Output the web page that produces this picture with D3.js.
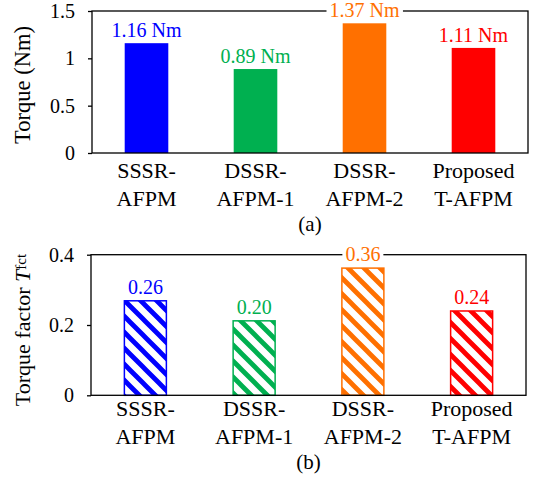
<!DOCTYPE html>
<html><head><meta charset="utf-8">
<script src="https://cdn.jsdelivr.net/npm/d3@7"></script>
<style>
html,body{margin:0;padding:0;background:#fff;}
svg text{font-family:"Liberation Serif","Times New Roman",serif;}
</style></head>
<body><svg id="c" width="536" height="484"></svg>
<script>
// ---- data ----
const categories = ["SSSR-AFPM", "DSSR-AFPM-1", "DSSR-AFPM-2", "Proposed T-AFPM"];
const categoryLines = [["SSSR-", "AFPM"], ["DSSR-", "AFPM-1"], ["DSSR-", "AFPM-2"], ["Proposed", "T-AFPM"]];
const torqueValues = [1.16, 0.887, 1.37, 1.11];
const torqueLabels = ["1.16 Nm", "0.89 Nm", "1.37 Nm", "1.11 Nm"];
const torqueTicks = [0, 0.5, 1, 1.5];
const factorValues = [0.271, 0.214, 0.364, 0.242];
const factorLabels = ["0.26", "0.20", "0.36", "0.24"];
const factorTicks = [0, 0.2, 0.4];
const colors = ["#0000ff", "#00b050", "#ff7000", "#ff0000"];

const svg = d3.select("#c");
svg.append("rect").attr("width", 536).attr("height", 484).attr("fill", "#fff");

// hatch patterns
const defs = svg.append("defs");
colors.forEach((c, i) => {
  const p = defs.append("pattern").attr("id", "hatch" + i)
    .attr("patternUnits", "userSpaceOnUse").attr("width", 16).attr("height", 16);
  p.append("rect").attr("width", 16).attr("height", 16).attr("fill", "#fff");
  p.append("path").attr("d", "M-4,-4L20,20M-4,12L4,20M12,-4L20,4")
    .attr("stroke", c).attr("stroke-width", 4.8);
});

function panel(cfg) {
  const g = svg.append("g");
  const x = d3.scaleBand().domain(categories).range([cfg.left, cfg.right])
    .paddingInner(0.6).paddingOuter(0.3);
  const y = d3.scaleLinear().domain([0, cfg.max]).range([cfg.bottom, cfg.top]);

  // bars
  g.selectAll("rect.bar").data(cfg.values).join("rect").attr("class", "bar")
    .attr("x", (d, i) => x(categories[i]) + (cfg.hatch ? 0.75 : 0))
    .attr("width", x.bandwidth() - (cfg.hatch ? 1.5 : 0))
    .attr("y", d => y(d) + (cfg.hatch ? 0.75 : 0))
    .attr("height", d => cfg.bottom - y(d) - (cfg.hatch ? 0.75 : 0))
    .attr("fill", (d, i) => cfg.hatch ? "url(#hatch" + i + ")" : colors[i])
    .attr("stroke", (d, i) => cfg.hatch ? colors[i] : "none")
    .attr("stroke-width", 1.5);

  // frame
  g.append("rect").attr("x", cfg.left).attr("y", cfg.top)
    .attr("width", cfg.right - cfg.left).attr("height", cfg.bottom - cfg.top)
    .attr("fill", "none").attr("stroke", "#000").attr("stroke-width", 1.3);

  // y axis
  const ax = g.append("g").attr("transform", `translate(${cfg.left},0)`)
    .call(d3.axisLeft(y).tickValues(cfg.ticks).tickFormat(d => String(d))
      .tickSize(4).tickPadding(13));
  ax.attr("font-family", null);
  ax.select(".domain").remove();
  ax.selectAll(".tick line").attr("stroke", "#000").attr("stroke-width", 1.3);
  ax.selectAll(".tick text").attr("font-size", 20).attr("fill", "#000");

  // value labels with white background boxes
  const vg = g.append("g");
  const labs = vg.selectAll("g.val").data(cfg.values).join("g").attr("class", "val");
  const txt = labs.append("text")
    .attr("x", (d, i) => x(categories[i]) + x.bandwidth() / 2)
    .attr("y", d => y(d) - 6)
    .attr("text-anchor", "middle").attr("font-size", 20)
    .attr("fill", (d, i) => colors[i])
    .text((d, i) => cfg.labels[i]);
  txt.each(function () {
    const b = this.getBBox();
    d3.select(this.parentNode).insert("rect", "text")
      .attr("x", b.x - 3).attr("y", b.y).attr("width", b.width + 6).attr("height", b.height)
      .attr("fill", "#fff");
  });

  // category labels
  categoryLines.forEach((lines, i) => {
    lines.forEach((t, j) => {
      g.append("text").attr("x", x(categories[i]) + x.bandwidth() / 2)
        .attr("y", cfg.bottom + cfg.catOffset + j * 28)
        .attr("text-anchor", "middle").attr("font-size", 22).attr("fill", "#000")
        .text(t);
    });
  });

  // panel caption
  g.append("text").attr("x", (cfg.left + cfg.right) / 2).attr("y", cfg.captionY)
    .attr("text-anchor", "middle").attr("font-size", 21).attr("fill", "#000")
    .text(cfg.caption);

  return g;
}

panel({left: 92, right: 528, top: 11, bottom: 153, max: 1.5, values: torqueValues,
  labels: torqueLabels, ticks: torqueTicks, hatch: false, catOffset: 25,
  captionY: 231, caption: "(a)"});
panel({left: 91, right: 526, top: 254.7, bottom: 395.3, max: 0.4, values: factorValues,
  labels: factorLabels, ticks: factorTicks, hatch: true, catOffset: 21,
  captionY: 469, caption: "(b)"});

// axis titles
svg.append("text").attr("transform", "translate(30,85) rotate(-90)")
  .attr("text-anchor", "middle").attr("font-size", 22.5).attr("fill", "#000")
  .text("Torque (Nm)");

const t2 = svg.append("text").attr("transform", "translate(30,330) rotate(-90)")
  .attr("text-anchor", "middle").attr("font-size", 22).attr("fill", "#000");
t2.append("tspan").text("Torque factor ");
t2.append("tspan").attr("font-style", "italic").text("T");
t2.append("tspan").attr("font-size", 15).attr("dy", -4).text("fct");
</script></body></html>
